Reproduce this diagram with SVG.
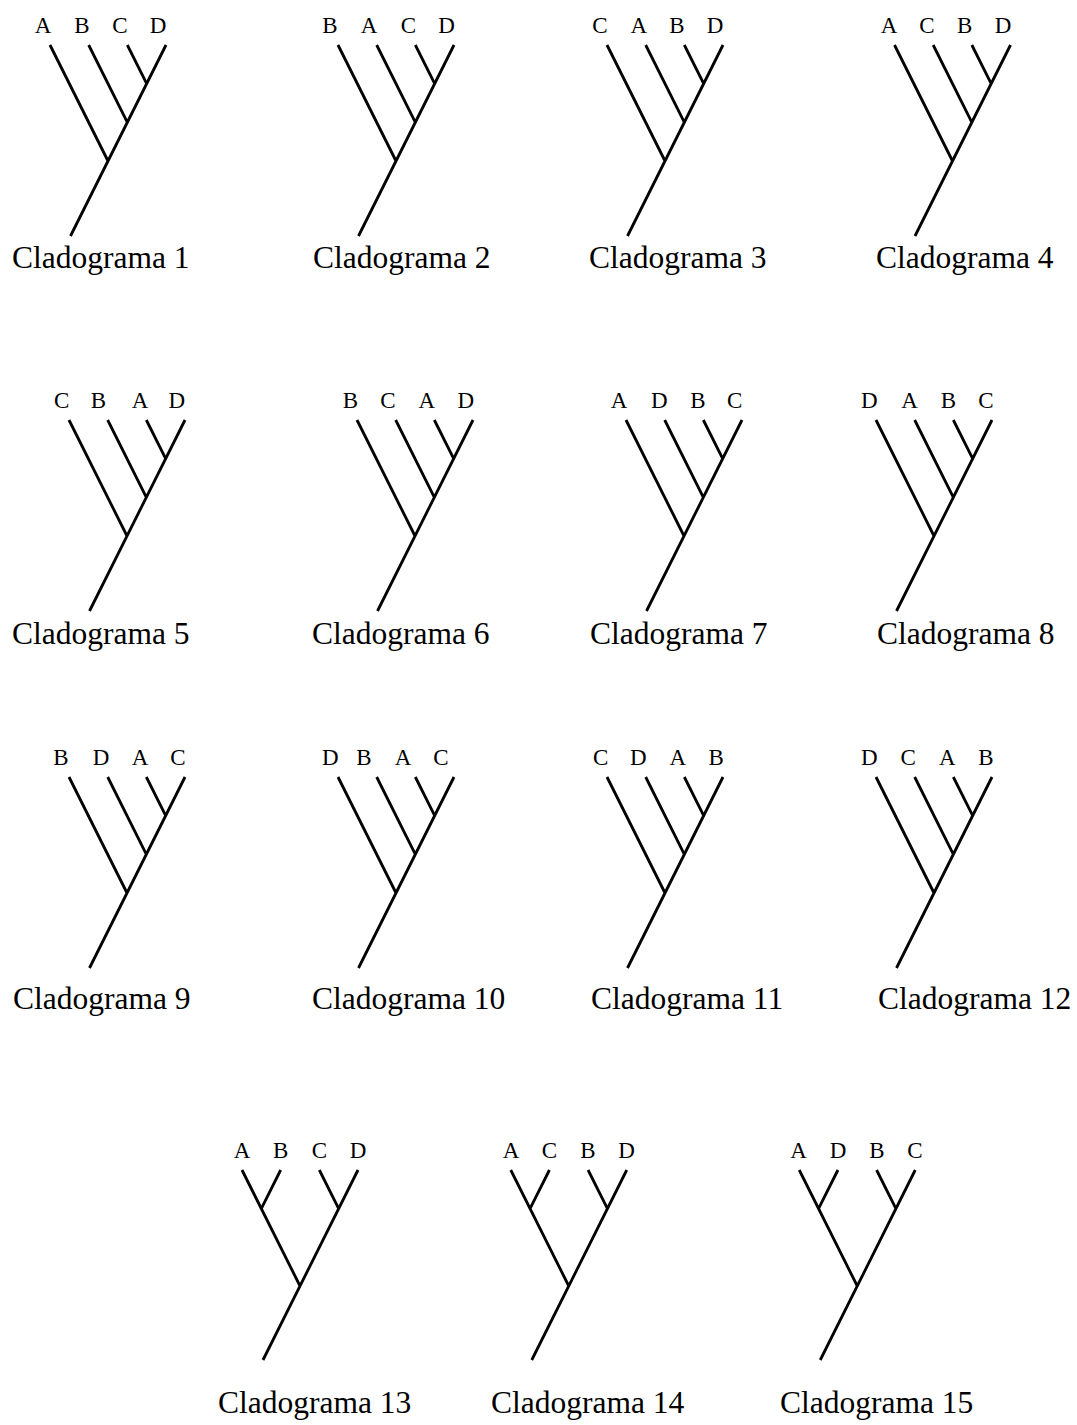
<svg xmlns="http://www.w3.org/2000/svg" xmlns:xlink="http://www.w3.org/1999/xlink" width="1077" height="1425" viewBox="0 0 1077 1425">
<style>
text{font-family:"Liberation Serif","Times New Roman",serif;fill:#000}
.lb{font-size:23px;text-anchor:middle}
.cap{font-size:31.5px}
.br{fill:none;stroke:#000;stroke-width:2.8;stroke-linecap:butt}
</style>
<defs>
<path id="ladder" class="br" d="M0,0 L58,116 M38.67,0 L77.33,77.33 M77.33,0 L96.67,38.67 M116,0 L20.5,191"/>
<path id="bal" class="br" d="M0,0 L58,116 M38.67,0 L19.33,38.67 M77.33,0 L96.67,38.67 M116,0 L21,190"/>
</defs>
<rect width="1077" height="1425" fill="#fff"/>
<g id="connectors">
<use xlink:href="#ladder" href="#ladder" x="50" y="45"/>
<use xlink:href="#ladder" href="#ladder" x="338" y="45"/>
<use xlink:href="#ladder" href="#ladder" x="607" y="45"/>
<use xlink:href="#ladder" href="#ladder" x="894.5" y="45"/>
<use xlink:href="#ladder" href="#ladder" x="69" y="420"/>
<use xlink:href="#ladder" href="#ladder" x="357" y="420"/>
<use xlink:href="#ladder" href="#ladder" x="626" y="420"/>
<use xlink:href="#ladder" href="#ladder" x="876" y="420"/>
<use xlink:href="#ladder" href="#ladder" x="69" y="777"/>
<use xlink:href="#ladder" href="#ladder" x="338" y="777"/>
<use xlink:href="#ladder" href="#ladder" x="607" y="777"/>
<use xlink:href="#ladder" href="#ladder" x="876" y="777"/>
<use xlink:href="#bal" href="#bal" x="242" y="1170"/>
<use xlink:href="#bal" href="#bal" x="510.75" y="1170"/>
<use xlink:href="#bal" href="#bal" x="799.25" y="1170"/>
</g>
<g id="clad1"><text class="lb" x="43" y="33">A</text><text class="lb" x="82" y="33">B</text><text class="lb" x="120" y="33">C</text><text class="lb" x="158" y="33">D</text><text class="cap" x="12" y="268">Cladograma 1</text></g>
<g id="clad2"><text class="lb" x="330" y="33">B</text><text class="lb" x="369" y="33">A</text><text class="lb" x="408.5" y="33">C</text><text class="lb" x="446.5" y="33">D</text><text class="cap" x="313" y="268">Cladograma 2</text></g>
<g id="clad3"><text class="lb" x="600" y="33">C</text><text class="lb" x="638.7" y="33">A</text><text class="lb" x="677" y="33">B</text><text class="lb" x="715" y="33">D</text><text class="cap" x="589" y="268">Cladograma 3</text></g>
<g id="clad4"><text class="lb" x="889" y="33">A</text><text class="lb" x="927" y="33">C</text><text class="lb" x="964.6" y="33">B</text><text class="lb" x="1003" y="33">D</text><text class="cap" x="876" y="268">Cladograma 4</text></g>
<g id="clad5"><text class="lb" x="61.7" y="408">C</text><text class="lb" x="98.3" y="408">B</text><text class="lb" x="140" y="408">A</text><text class="lb" x="176.7" y="408">D</text><text class="cap" x="12" y="643.5">Cladograma 5</text></g>
<g id="clad6"><text class="lb" x="350.3" y="408">B</text><text class="lb" x="388" y="408">C</text><text class="lb" x="426.7" y="408">A</text><text class="lb" x="465.9" y="408">D</text><text class="cap" x="312" y="643.5">Cladograma 6</text></g>
<g id="clad7"><text class="lb" x="619.1" y="408">A</text><text class="lb" x="659.3" y="408">D</text><text class="lb" x="698" y="408">B</text><text class="lb" x="734.7" y="408">C</text><text class="cap" x="590" y="643.5">Cladograma 7</text></g>
<g id="clad8"><text class="lb" x="869.4" y="408">D</text><text class="lb" x="909.6" y="408">A</text><text class="lb" x="948.3" y="408">B</text><text class="lb" x="986" y="408">C</text><text class="cap" x="877" y="643.5">Cladograma 8</text></g>
<g id="clad9"><text class="lb" x="61" y="765">B</text><text class="lb" x="101" y="765">D</text><text class="lb" x="140" y="765">A</text><text class="lb" x="178" y="765">C</text><text class="cap" x="13" y="1009">Cladograma 9</text></g>
<g id="clad10"><text class="lb" x="330.2" y="765">D</text><text class="lb" x="363.9" y="765">B</text><text class="lb" x="403.1" y="765">A</text><text class="lb" x="440.8" y="765">C</text><text class="cap" x="312" y="1009">Cladograma 10</text></g>
<g id="clad11"><text class="lb" x="600.6" y="765">C</text><text class="lb" x="638.2" y="765">D</text><text class="lb" x="677.9" y="765">A</text><text class="lb" x="716.1" y="765">B</text><text class="cap" x="591" y="1009">Cladograma 11</text></g>
<g id="clad12"><text class="lb" x="869.4" y="765">D</text><text class="lb" x="908.1" y="765">C</text><text class="lb" x="947.3" y="765">A</text><text class="lb" x="986" y="765">B</text><text class="cap" x="878" y="1009">Cladograma 12</text></g>
<g id="clad13"><text class="lb" x="242" y="1158">A</text><text class="lb" x="280.7" y="1158">B</text><text class="lb" x="319.3" y="1158">C</text><text class="lb" x="358" y="1158">D</text><text class="cap" x="218" y="1413">Cladograma 13</text></g>
<g id="clad14"><text class="lb" x="511" y="1158">A</text><text class="lb" x="549.5" y="1158">C</text><text class="lb" x="588" y="1158">B</text><text class="lb" x="626.5" y="1158">D</text><text class="cap" x="491" y="1413">Cladograma 14</text></g>
<g id="clad15"><text class="lb" x="798.5" y="1158">A</text><text class="lb" x="838" y="1158">D</text><text class="lb" x="877" y="1158">B</text><text class="lb" x="915" y="1158">C</text><text class="cap" x="780" y="1413">Cladograma 15</text></g>
</svg>
